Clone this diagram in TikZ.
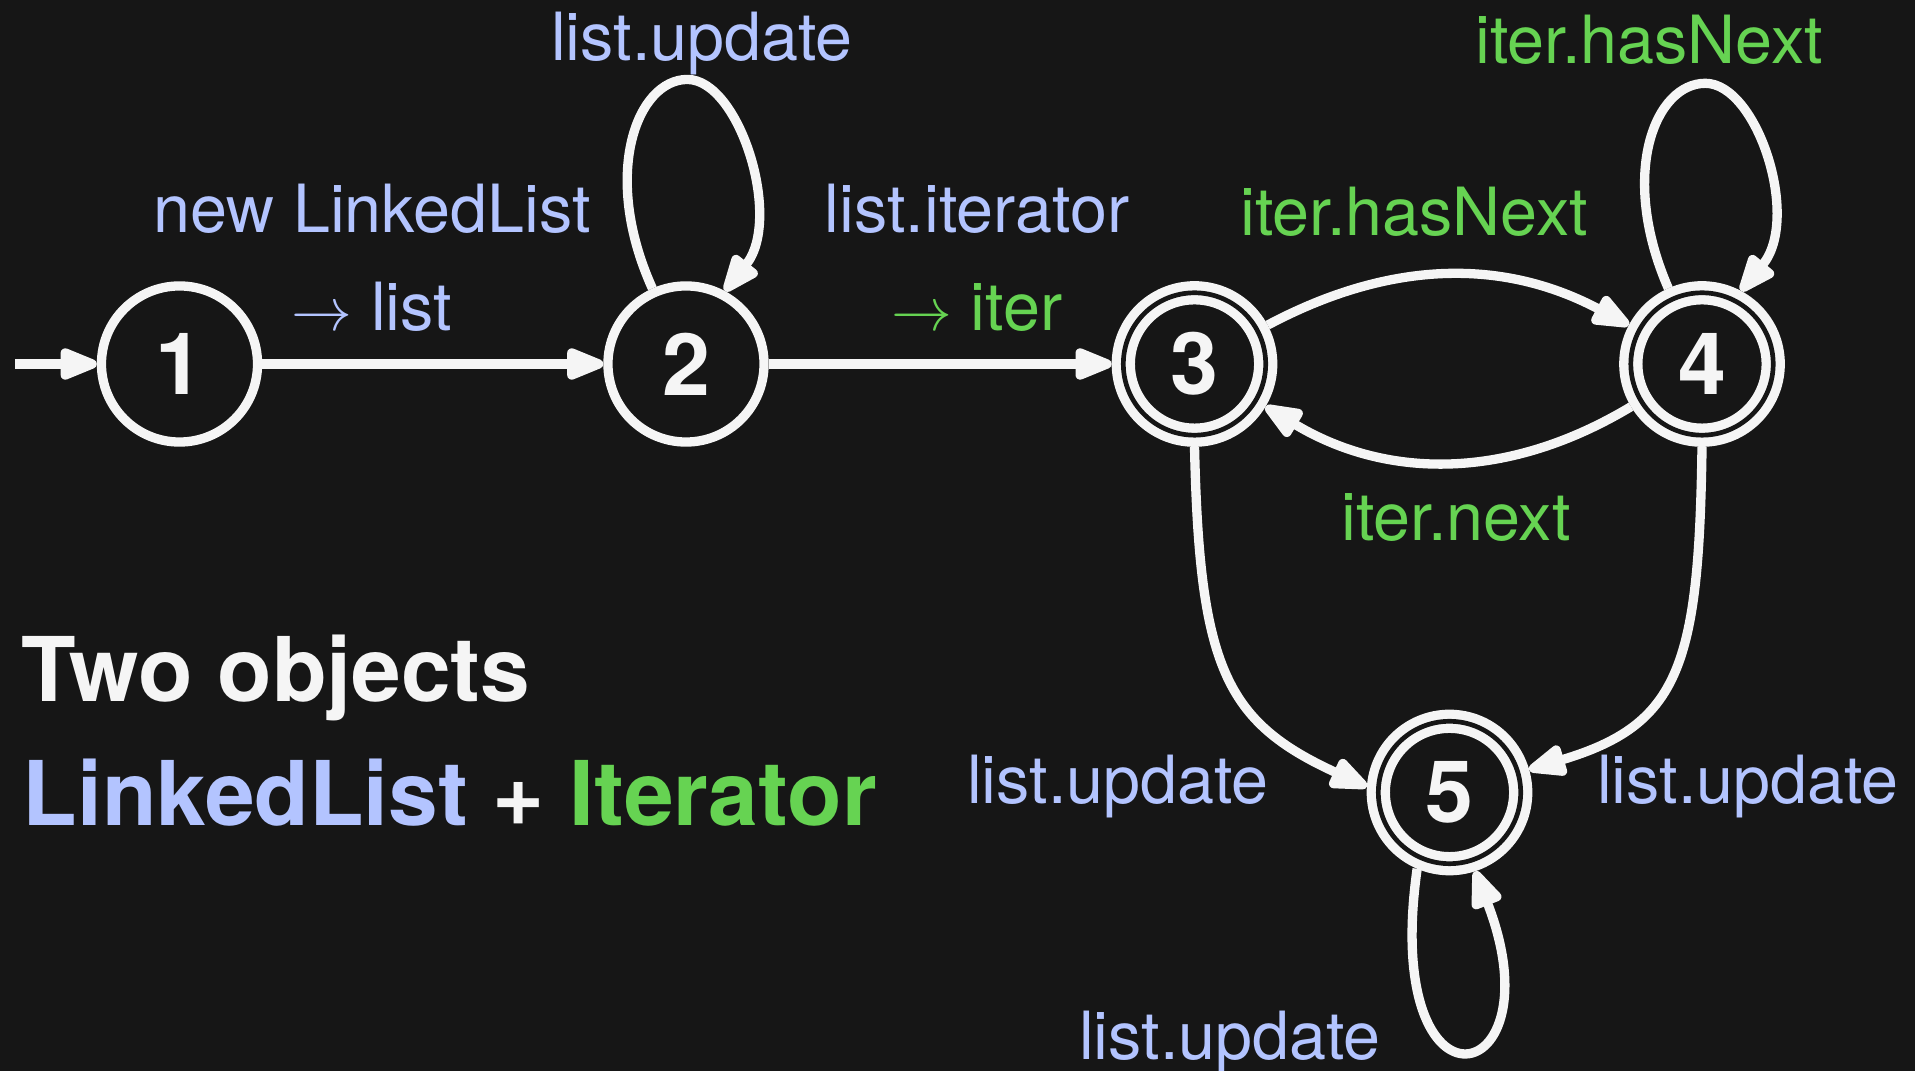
\documentclass[tikz,border=0pt]{standalone}
\usepackage{fontspec}
\setmainfont{TeX Gyre Heros}
\usetikzlibrary{arrows.meta}
\definecolor{bg}{HTML}{161616}
\definecolor{ink}{HTML}{F5F5F5}
\definecolor{listblue}{HTML}{B3C4FF}
\definecolor{itergreen}{HTML}{66D352}

\begin{document}
\begin{tikzpicture}[x=0.01cm, y=-0.01cm,
  state/.style={circle, draw=ink, line width=0.093cm, minimum size=1.56cm,
    inner sep=0pt, text=ink, font=\fontsize{24.5pt}{28pt}\selectfont\bfseries},
  accept/.style={state, double=bg, double distance=0.047cm,
    minimum size=1.423cm, outer sep=0.1165cm},
  edge/.style={draw=ink, line width=0.093cm,
    -{Triangle[length=0.45cm, width=0.33cm, round]}},
  lbl/.style={font=\fontsize{18.9pt}{27.9pt}\selectfont, inner sep=0pt, anchor=base},
  listlbl/.style={lbl, text=listblue},
  iterlbl/.style={lbl, text=itergreen},
  headline/.style={font=\fontsize{25.4pt}{30pt}\selectfont\bfseries, inner sep=0pt, anchor=base west}]

% canvas
\fill[bg] (0,0) rectangle (1915,1071);
\useasboundingbox (0,0) rectangle (1915,1071);

% states
\node[state]  (n1) at (179.5,364) {1};
\node[state]  (n2) at (686,364) {2};
\node[accept] (n3) at (1194.5,364) {3};
\node[accept] (n4) at (1702,364) {4};
\node[accept] (n5) at (1449.5,792.5) {5};
\coordinate (start) at (15,364);

% transitions
\draw[edge] (start) -- (n1);
\draw[edge] (n1) -- (n2);
\draw[edge] (n2) -- (n3);
\draw[edge] (n3) to[bend left=28] (n4);
\draw[edge] (n4) to[bend left=31] (n3);
% self loops above states 2 and 4 (egg shaped, two segments)
\draw[edge] (n2.114) .. controls +(-52,-115) and +(-50,0) .. ++(35,-209)
            .. controls +(52,0) and +(58,-72) .. (n2.62);
\draw[edge] (n4.114) .. controls +(-50,-115) and +(-50,0) .. ++(37,-205)
            .. controls +(52,0) and +(60,-72) .. (n4.62);
% self loop below state 5
\draw[edge] (n5.-113) .. controls +(-37,261) and +(85,219) .. (n5.-72);
% into state 5
\draw[edge] (n3.-90) .. controls +(5,220) and +(-142,-65) .. (n5.176);
\draw[edge] (n4.-90) .. controls +(-3,220) and +(150,-45) .. (n5.16);

% transition labels
\node[listlbl] (l1a) at (372,233) {new LinkedList};
\node[listlbl] (l1b) at (372,331) {$\rightarrow$ list};
\node[listlbl] (l2)  at (702,61) {list.update};
\node[listlbl] (l3a) at (977,233) {list.iterator};
\node[iterlbl] (l3b) at (977,331) {$\rightarrow$ iter};
\node[iterlbl] (l4)  at (1414,236) {iter.hasNext};
\node[iterlbl] (l5)  at (1649,64) {iter.hasNext};
\node[iterlbl] (l6)  at (1456,541) {iter.next};
\node[listlbl] (l7)  at (1118,804) {list.update};
\node[listlbl] (l8)  at (1748,804) {list.update};
\node[listlbl] (l9)  at (1230,1060) {list.update};

% caption
\node[headline, text=ink] (t1) at (21,702) {Two objects};
\node[headline] (t2) at (22,826) {\textcolor{listblue}{LinkedList} \textcolor{ink}{+} \textcolor{itergreen}{Iterator}};
\end{tikzpicture}
\end{document}
